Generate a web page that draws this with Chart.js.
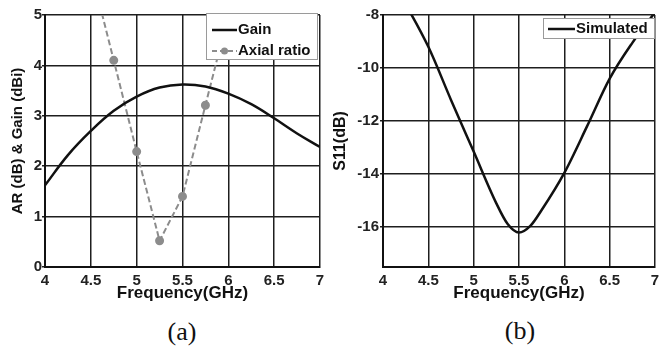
<!DOCTYPE html>
<html>
<head>
<meta charset="utf-8">
<script src="https://cdn.jsdelivr.net/npm/chart.js@4/dist/chart.umd.min.js"></script>
<style>
  html, body { margin: 0; padding: 0; background: #fff; overflow: hidden; width: 659px; height: 348px; }
  #wrap { position: relative; width: 659px; height: 348px; overflow: hidden; }
  .pane { position: absolute; top: 0; }
  .cap { position: absolute; font-family: "Liberation Serif", "Times New Roman", serif; font-size: 26px; color: #111; transform: translate(-50%, -50%); }
</style>
</head>
<body>
<div id="wrap">
  <div class="pane" style="left:0;width:330px;height:305px;"><canvas id="c1" width="330" height="305"></canvas></div>
  <div class="pane" style="left:330px;width:336px;height:305px;"><canvas id="c2" width="336" height="305"></canvas></div>
  <div class="cap" style="left:182px;top:332px;">(a)</div>
  <div class="cap" style="left:520px;top:331px;">(b)</div>
</div>
<script>
// ---- data ----
const freq = [4, 4.25, 4.5, 4.75, 5, 5.25, 5.5, 5.75, 6, 6.25, 6.5, 6.75, 7];
const gain = [1.62, 2.22, 2.7, 3.1, 3.38, 3.56, 3.62, 3.58, 3.44, 3.23, 2.95, 2.65, 2.38];
const arFreq = [4.5, 4.75, 5, 5.25, 5.5, 5.75, 6];
const axialRatio = [5.9, 4.1, 2.29, 0.52, 1.4, 3.21, 5.0];
const s11Freq = [4, 4.25, 4.5, 4.75, 5, 5.25, 5.375, 5.5, 5.625, 5.75, 6, 6.25, 6.5, 6.75, 7];
const s11 = [-6.2, -7.6, -9.2, -11.2, -13.15, -15.1, -15.88, -16.2, -15.95, -15.35, -13.95, -12.2, -10.4, -9.05, -7.9];
const xTicks = [4, 4.5, 5, 5.5, 6, 6.5, 7];
const leftYTicks = [0, 1, 2, 3, 4, 5];
const rightYTicks = [-16, -14, -12, -10, -8];
const leftLegend = ['Gain', 'Axial ratio'];
const rightLegend = ['Simulated'];

const pts = (xs, ys) => xs.map((x, i) => ({x: x, y: ys[i]}));

const tickFont = {family: 'Liberation Sans, Arial, sans-serif', size: 15, weight: 'bold'};
const titleFont = {family: 'Liberation Sans, Arial, sans-serif', size: 17, weight: 'bold'};
const GRID = '#1e1e1e';

const insideLegend = {
  id: 'insideLegend',
  afterDraw(chart, args, opts) {
    const ctx = chart.ctx, a = chart.chartArea;
    const L = a.right + opts.dx - opts.w, T = a.top + opts.dy;
    ctx.save();
    ctx.fillStyle = '#fff';
    ctx.fillRect(L, T, opts.w, opts.h);
    ctx.strokeStyle = '#9a9a9a';
    ctx.lineWidth = 1;
    ctx.strokeRect(L + 0.5, T + 0.5, opts.w - 1, opts.h - 1);
    ctx.font = 'bold 15px "Liberation Sans", Arial, sans-serif';
    ctx.textBaseline = 'middle';
    ctx.textAlign = 'left';
    opts.items.forEach((it, i) => {
      const y = T + opts.rows[i];
      ctx.beginPath();
      ctx.setLineDash(it.dash || []);
      ctx.strokeStyle = it.color;
      ctx.lineWidth = it.width;
      ctx.moveTo(L + opts.x0, y);
      ctx.lineTo(L + opts.x1, y);
      ctx.stroke();
      ctx.setLineDash([]);
      if (it.marker) {
        ctx.beginPath();
        ctx.fillStyle = it.color;
        ctx.arc(L + (opts.x0 + opts.x1) / 2, y, 3.5, 0, Math.PI * 2);
        ctx.fill();
      }
      ctx.fillStyle = '#111';
      ctx.fillText(it.label, L + opts.x1 + 1, y);
    });
    ctx.restore();
  }
};

function xScale() {
  return {
    type: 'linear', min: 4, max: 7,
    afterBuildTicks: s => { s.ticks = xTicks.map(v => ({value: v})); },
    afterFit: s => { s.height = 38; },
    grid: { color: GRID, lineWidth: 1.5, drawTicks: false },
    border: { color: '#111', width: 2 },
    ticks: { font: tickFont, color: '#222', padding: 5, maxRotation: 0, autoSkip: false, callback: v => String(v) },
    title: { display: true, text: 'Frequency(GHz)', font: titleFont, color: '#111', padding: {top: 0, bottom: 1} }
  };
}

new Chart(document.getElementById('c1'), {
  type: 'line',
  data: {
    datasets: [
      { label: leftLegend[0], data: pts(freq, gain), borderColor: '#111', borderWidth: 2.5,
        pointRadius: 0, tension: 0.4, clip: 0 },
      { label: leftLegend[1], data: pts(arFreq, axialRatio), borderColor: '#8c8c8c', borderWidth: 2,
        borderDash: [6, 3], pointRadius: 3.5, pointBackgroundColor: '#8c8c8c', pointBorderColor: '#8c8c8c',
        tension: 0, clip: 0 }
    ]
  },
  options: {
    responsive: false, animation: false, devicePixelRatio: 1,
    layout: { padding: { top: 15, right: 10, left: 9, bottom: 0 } },
    plugins: {
      legend: { display: false }, tooltip: { enabled: false },
      insideLegend: {
        w: 112, h: 47, dx: -2, dy: -2, rows: [17, 38], x0: 6, x1: 31,
        items: [
          { label: leftLegend[0], color: '#111', width: 2.5 },
          { label: leftLegend[1], color: '#8c8c8c', width: 2, dash: [5, 3], marker: true }
        ]
      }
    },
    scales: {
      x: xScale(),
      y: {
        type: 'linear', min: 0, max: 5,
        afterBuildTicks: s => { s.ticks = leftYTicks.map(v => ({value: v})); },
        afterFit: s => { s.width = 36; },
        grid: { color: GRID, lineWidth: 1.5, tickLength: 3 },
        border: { color: '#111', width: 2 },
        ticks: { font: tickFont, color: '#222', padding: 0, callback: v => String(v) },
        title: { display: true, text: 'AR (dB) & Gain (dBi)', font: {family: 'Liberation Sans, Arial, sans-serif', size: 15, weight: 'bold'}, color: '#111', padding: 0 }
      }
    }
  },
  plugins: [insideLegend]
});

new Chart(document.getElementById('c2'), {
  type: 'line',
  data: {
    datasets: [
      { label: rightLegend[0], data: pts(s11Freq, s11), borderColor: '#111', borderWidth: 2.5,
        pointRadius: 0, tension: 0.4, cubicInterpolationMode: 'monotone', clip: 0 }
    ]
  },
  options: {
    responsive: false, animation: false, devicePixelRatio: 1,
    layout: { padding: { top: 15, right: 11, left: 1, bottom: 0 } },
    plugins: {
      legend: { display: false }, tooltip: { enabled: false },
      insideLegend: {
        w: 112, h: 21, dx: 0, dy: 3, rows: [11], x0: 5, x1: 32,
        items: [ { label: rightLegend[0], color: '#111', width: 2.5 } ]
      }
    },
    scales: {
      x: xScale(),
      y: {
        type: 'linear', min: -17.5, max: -8,
        afterBuildTicks: s => { s.ticks = rightYTicks.map(v => ({value: v})); },
        afterFit: s => { s.width = 52; },
        grid: { color: GRID, lineWidth: 1.5, tickLength: 3 },
        border: { color: '#111', width: 2 },
        ticks: { font: tickFont, color: '#222', padding: 1, callback: v => String(v) },
        title: { display: true, text: 'S11(dB)', font: {family: 'Liberation Sans, Arial, sans-serif', size: 16, weight: 'bold'}, color: '#111', padding: 0 }
      }
    }
  },
  plugins: [insideLegend]
});
</script>
</body>
</html>
